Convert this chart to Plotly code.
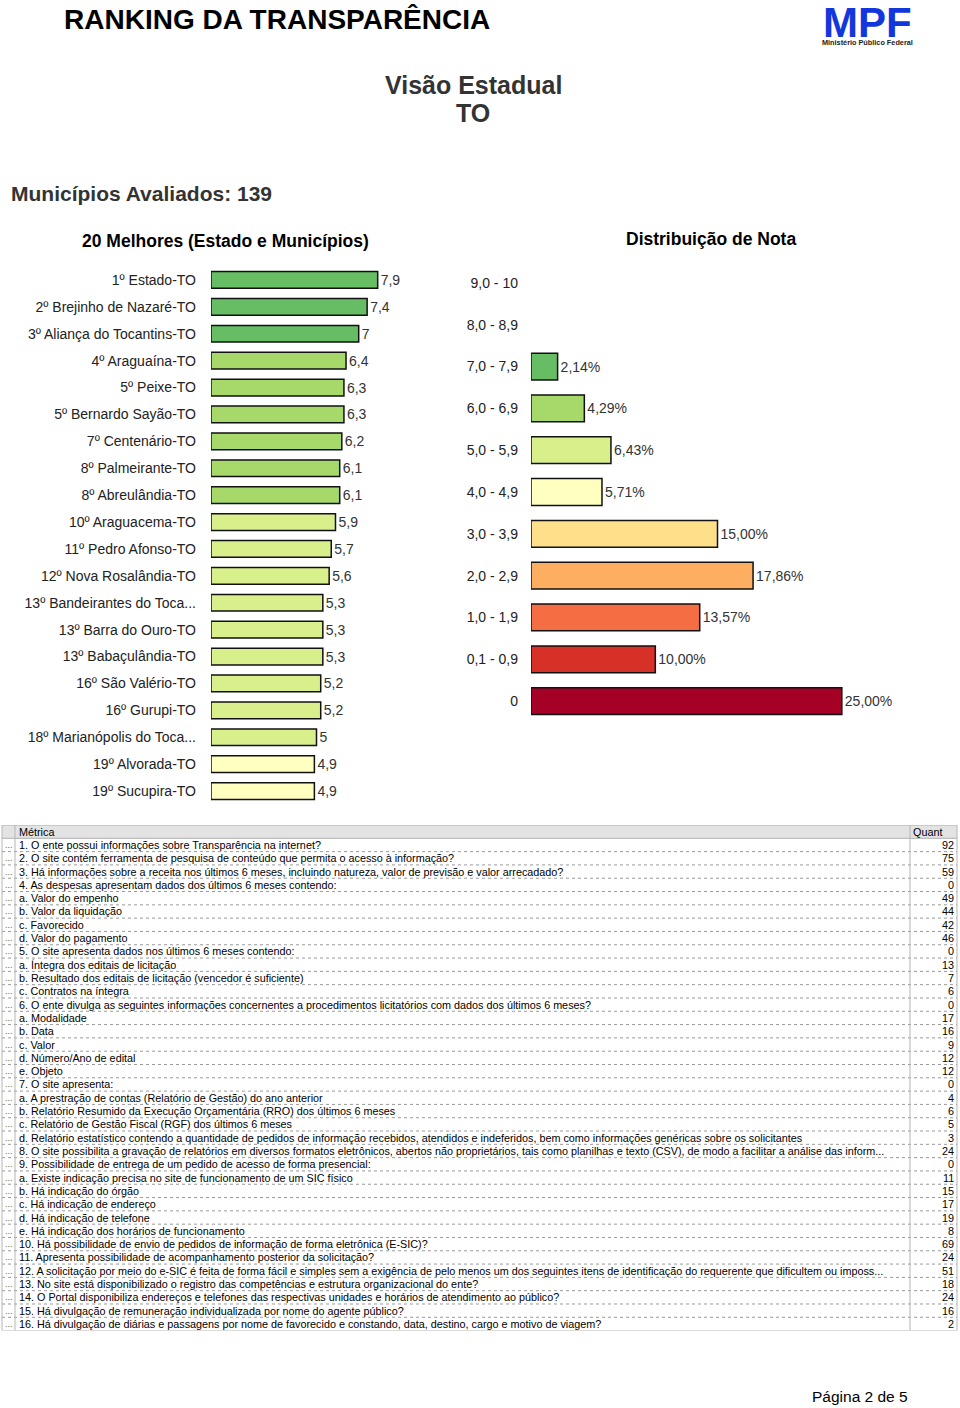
import plotly.graph_objects as go

W, H = 960, 1408
FONT = "Liberation Sans, Arial, sans-serif"

# ---------------- data ----------------
top20_names = [
    "1º Estado-TO", "2º Brejinho de Nazaré-TO", "3º Aliança do Tocantins-TO",
    "4º Araguaína-TO", "5º Peixe-TO", "5º Bernardo Sayão-TO", "7º Centenário-TO",
    "8º Palmeirante-TO", "8º Abreulândia-TO", "10º Araguacema-TO",
    "11º Pedro Afonso-TO", "12º Nova Rosalândia-TO", "13º Bandeirantes do Toca...",
    "13º Barra do Ouro-TO", "13º Babaçulândia-TO", "16º São Valério-TO",
    "16º Gurupi-TO", "18º Marianópolis do Toca...", "19º Alvorada-TO", "19º Sucupira-TO",
]
top20_scores = [7.9, 7.4, 7.0, 6.4, 6.3, 6.3, 6.2, 6.1, 6.1, 5.9,
                5.7, 5.6, 5.3, 5.3, 5.3, 5.2, 5.2, 5.0, 4.9, 4.9]

dist_bins = ["9,0 - 10", "8,0 - 8,9", "7,0 - 7,9", "6,0 - 6,9", "5,0 - 5,9",
             "4,0 - 4,9", "3,0 - 3,9", "2,0 - 2,9", "1,0 - 1,9", "0,1 - 0,9", "0"]
dist_pct = [0, 0, 2.14, 4.29, 6.43, 5.71, 15.00, 17.86, 13.57, 10.00, 25.00]
bin_colors = ["#006837", "#1a9850", "#66bd63", "#a6d96a", "#d9ef8b", "#ffffbf",
              "#fee08b", "#fdae61", "#f46d43", "#d73027", "#a50026"]

metric_labels = [
    "1. O ente possui informações sobre Transparência na internet?",
    "2. O site contém ferramenta de pesquisa de conteúdo que permita o acesso à informação?",
    "3. Há informações sobre a receita nos últimos 6 meses, incluindo natureza, valor de previsão e valor arrecadado?",
    "4. As despesas apresentam dados dos últimos 6 meses contendo:",
    "a. Valor do empenho",
    "b. Valor da liquidação",
    "c. Favorecido",
    "d. Valor do pagamento",
    "5. O site apresenta dados nos últimos 6 meses contendo:",
    "a. Íntegra dos editais de licitação",
    "b. Resultado dos editais de licitação (vencedor é suficiente)",
    "c. Contratos na íntegra",
    "6. O ente divulga as seguintes informações concernentes a procedimentos licitatórios com dados dos últimos 6 meses?",
    "a. Modalidade",
    "b. Data",
    "c. Valor",
    "d. Número/Ano de edital",
    "e. Objeto",
    "7. O site apresenta:",
    "a. A prestração de contas (Relatório de Gestão) do ano anterior",
    "b. Relatório Resumido da Execução Orçamentária (RRO) dos últimos 6 meses",
    "c. Relatório de Gestão Fiscal (RGF) dos últimos 6 meses",
    "d. Relatório estatístico contendo a quantidade de pedidos de informação recebidos, atendidos e indeferidos, bem como informações genéricas sobre os solicitantes",
    "8. O site possibilita a gravação de relatórios em diversos formatos eletrônicos, abertos não proprietários, tais como planilhas e texto (CSV), de modo a facilitar a análise das inform...",
    "9. Possibilidade de entrega de um pedido de acesso de forma presencial:",
    "a. Existe indicação precisa no site de funcionamento de um SIC físico",
    "b. Há indicação do órgão",
    "c. Há indicação de endereço",
    "d. Há indicação de telefone",
    "e. Há indicação dos horários de funcionamento",
    "10. Há possibilidade de envio de pedidos de informação de forma eletrônica (E-SIC)?",
    "11. Apresenta possibilidade de acompanhamento posterior da solicitação?",
    "12. A solicitação por meio do e-SIC é feita de forma fácil e simples sem a exigência de pelo menos um dos seguintes itens de identificação do requerente que dificultem ou imposs...",
    "13. No site está disponibilizado o registro das competências e estrutura organizacional do ente?",
    "14. O Portal disponibiliza endereços e telefones das respectivas unidades e horários de atendimento ao público?",
    "15. Há divulgação de remuneração individualizada por nome do agente público?",
    "16. Há divulgação de diárias e passagens por nome de favorecido e constando, data, destino, cargo e motivo de viagem?",
]
metric_counts = [92, 75, 59, 0, 49, 44, 42, 46, 0, 13, 7, 6, 0, 17, 16, 9, 12, 12,
                 0, 4, 6, 5, 3, 24, 0, 11, 15, 17, 19, 8, 69, 24, 51, 18, 24, 16, 2]
table_headers = ["Métrica", "Quant"]


# ---------------- helpers ----------------
def fmt_score(v):
    s = f"{v:.1f}".replace(".", ",")
    return s[:-2] if s.endswith(",0") else s


def fmt_pct(v):
    return "" if v == 0 else f"{v:.2f}".replace(".", ",") + "%"


def score_color(v):
    if v <= 0:
        return bin_colors[-1]
    if v < 1:
        return bin_colors[-2]
    return bin_colors[max(0, 9 - int(v))]


def px_x(p):
    return p / W


def px_y(p):
    return 1 - p / H


fig = go.Figure()

# Left chart: 20 best
fig.add_trace(go.Bar(
    orientation="h", y=top20_names, x=top20_scores, xaxis="x", yaxis="y",
    marker=dict(color=[score_color(v) for v in top20_scores],
                line=dict(color="#111111", width=1.5)),
    width=0.62,
    text=[fmt_score(v) for v in top20_scores], textposition="outside",
    textfont=dict(size=14, color="#333333", family=FONT),
    constraintext="none", cliponaxis=False, hoverinfo="skip",
))

# Right chart: distribution
fig.add_trace(go.Bar(
    orientation="h", y=dist_bins, x=dist_pct, xaxis="x2", yaxis="y2",
    marker=dict(color=bin_colors,
                line=dict(color="#111111", width=[0 if v == 0 else 1.5 for v in dist_pct])),
    width=0.64,
    text=[fmt_pct(v) for v in dist_pct], textposition="outside",
    textfont=dict(size=14, color="#333333", family=FONT),
    constraintext="none", cliponaxis=False, hoverinfo="skip",
))

# invisible anchor trace for table axes
fig.add_trace(go.Scatter(x=[0, 960], y=[-0.5, len(metric_labels) + 0.5], xaxis="x3", yaxis="y3",
                         mode="markers", marker=dict(opacity=0), hoverinfo="skip"))

# ---------------- table (drawn on x3/y3) ----------------
n_rows = len(metric_labels) + 1  # header + data
COL_L, COL_DOTS, COL_Q, COL_R = 2, 15, 910, 957
shapes = []
shapes.append(dict(type="rect", xref="x3", yref="y3", x0=COL_L, x1=COL_R, y0=-0.5, y1=0.5,
                   fillcolor="#e3e3e3", line=dict(width=0), layer="below"))
for i in range(n_rows + 1):
    yb = i - 0.5
    solid = i in (0, 1, n_rows)
    shapes.append(dict(type="line", xref="x3", yref="y3", x0=COL_L, x1=COL_R, y0=yb, y1=yb,
                       line=dict(color="#b0b0b0" if solid else "#9a9a9a", width=1,
                                 dash="solid" if solid else "dot")))
for xv in (COL_L, COL_DOTS, COL_Q, COL_R):
    shapes.append(dict(type="line", xref="x3", yref="y3", x0=xv, x1=xv, y0=-0.5, y1=n_rows - 0.5,
                       line=dict(color="#b5b5b5", width=1)))

annotations = []
TSIZE = 10.8
tfont = dict(family=FONT, size=TSIZE, color="#000000")
annotations.append(dict(xref="x3", yref="y3", x=COL_DOTS + 2, y=0, text=table_headers[0],
                        showarrow=False, xanchor="left", yanchor="middle", font=tfont))
annotations.append(dict(xref="x3", yref="y3", x=COL_Q + 1, y=0, text=table_headers[1],
                        showarrow=False, xanchor="left", yanchor="middle", font=tfont))
for i, (lab, cnt) in enumerate(zip(metric_labels, metric_counts), start=1):
    annotations.append(dict(xref="x3", yref="y3", x=COL_L + 1, y=i, text="...",
                            showarrow=False, xanchor="left", yanchor="middle",
                            font=dict(family=FONT, size=9, color="#666666")))
    annotations.append(dict(xref="x3", yref="y3", x=COL_DOTS + 2, y=i, text=lab,
                            showarrow=False, xanchor="left", yanchor="middle", font=tfont))
    annotations.append(dict(xref="x3", yref="y3", x=COL_R - 1, y=i, text=str(cnt),
                            showarrow=False, xanchor="right", yanchor="middle", font=tfont))

# ---------------- page texts ----------------
def page_text(text, x, y, size, color="#000000", bold=False, xanchor="left", family=FONT):
    t = f"<b>{text}</b>" if bold else text
    annotations.append(dict(xref="paper", yref="paper", x=px_x(x), y=px_y(y), text=t,
                            showarrow=False, xanchor=xanchor, yanchor="middle",
                            font=dict(family=family, size=size, color=color)))


page_text("RANKING DA TRANSPARÊNCIA", 62, 20, 28, "#000000", True)
page_text("MPF", 867, 22, 42, "#1237dd", True, "center")
page_text("Ministério Público Federal", 867, 43, 7.3, "#222222", True, "center")
page_text("Visão Estadual", 473, 85, 25, "#333333", True, "center")
page_text("TO", 473, 113, 25, "#333333", True, "center")
page_text("Municípios Avaliados: 139", 9, 193, 21, "#333333", True)
page_text("20 Melhores (Estado e Municípios)", 225, 241, 17.5, "#000000", True, "center")
page_text("Distribuição de Nota", 711, 239, 17.5, "#000000", True, "center")
page_text("Página 2 de 5", 860, 1396, 15.5, "#000000", False, "center")

hidden_x = dict(showgrid=False, zeroline=False, showticklabels=False, showline=False, ticks="")

fig.update_layout(
    width=W, height=H, margin=dict(l=0, r=0, t=0, b=0),
    paper_bgcolor="white", plot_bgcolor="white", showlegend=False,
    font=dict(family=FONT, color="#222222"),
    bargap=0.38,
    xaxis=dict(domain=[px_x(211), px_x(422)], range=[0, 10], anchor="y", **hidden_x),
    yaxis=dict(domain=[px_y(804.5), px_y(266.5)], anchor="x", type="category",
               categoryorder="array", categoryarray=top20_names, range=[19.5, -0.5],
               showgrid=False, zeroline=False, showline=False, ticks="",
               ticklabelstandoff=14, tickfont=dict(size=14, color="#222222", family=FONT)),
    xaxis2=dict(domain=[px_x(531), px_x(904)], range=[0, 30], anchor="y2", **hidden_x),
    yaxis2=dict(domain=[px_y(722), px_y(262)], anchor="x2", type="category",
                categoryorder="array", categoryarray=dist_bins, range=[10.5, -0.5],
                showgrid=False, zeroline=False, showline=False, ticks="",
                ticklabelstandoff=12, tickfont=dict(size=14, color="#222222", family=FONT)),
    xaxis3=dict(domain=[0, 1], range=[0, 960], anchor="y3", visible=False),
    yaxis3=dict(domain=[px_y(1330.6), px_y(825)], range=[n_rows - 0.5, -0.5], anchor="x3",
                visible=False),
    shapes=shapes,
    annotations=annotations,
)

fig.write_html("out.html", config={"displayModeBar": False, "staticPlot": True},
               post_script="document.body.style.margin='0px';document.body.style.overflow='hidden';")
